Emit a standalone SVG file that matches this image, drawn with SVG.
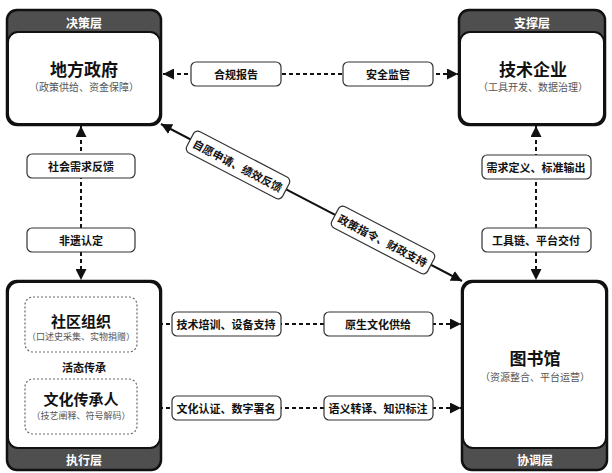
<svg xmlns="http://www.w3.org/2000/svg" width="612" height="473" viewBox="0 0 612 473">
<defs>
<marker id="ah" viewBox="0 0 10 10" refX="10" refY="5" markerWidth="11" markerHeight="11" markerUnits="userSpaceOnUse" orient="auto-start-reverse">
<path d="M0,0 L10,5 L0,10 z" fill="#111"/>
</marker>
<style>
text{font-family:"Noto Sans CJK SC","Noto Sans",sans-serif;text-anchor:middle;dominant-baseline:central}
.outer{fill:#4f4f4f;stroke:#111;stroke-width:2.5}
.inner{fill:#fff;stroke:#111;stroke-width:2}
.hdr{fill:#fff;font-size:12px;font-weight:700}
.title{fill:#111;font-size:17px;font-weight:700}
.sub{fill:#555;font-size:10px}
.stitle{fill:#111;font-size:15px;font-weight:700}
.ssub{fill:#555;font-size:9px}
.subbox{fill:#fff;stroke:#666;stroke-width:1.2;stroke-dasharray:2,2}
.lbox{fill:#fff;stroke:#333;stroke-width:1.2}
.lbl{fill:#111;font-size:11px;font-weight:700}
.dash{fill:none;stroke:#111;stroke-width:2;stroke-dasharray:4,3;marker-start:url(#ah);marker-end:url(#ah)}
.solid{fill:none;stroke:#111;stroke-width:2;marker-start:url(#ah);marker-end:url(#ah)}
</style>
</defs>

<g id="connectors">
<line class="dash" x1="163" y1="74" x2="458" y2="74"/>
<line class="dash" x1="81" y1="126" x2="81" y2="280"/>
<line class="dash" x1="536" y1="126" x2="536" y2="280"/>
<line class="solid" x1="161" y1="124" x2="462" y2="281"/>
<line class="dash" x1="138" y1="324" x2="461" y2="324"/>
<line class="dash" x1="138" y1="408" x2="461" y2="408"/>
</g>

<g id="gov">
<rect class="outer" x="7" y="10" width="154" height="115" rx="10"/>
<rect class="inner" x="8" y="32" width="152" height="92" rx="10"/>
<text class="hdr" x="84" y="22">决策层</text>
<text class="title" x="84" y="68">地方政府</text>
<text class="sub" x="84" y="86">（政策供给、资金保障）</text>
</g>

<g id="tech">
<rect class="outer" x="459" y="10" width="146" height="115" rx="10"/>
<rect class="inner" x="460" y="32" width="144" height="92" rx="10"/>
<text class="hdr" x="532" y="22">支撑层</text>
<text class="title" x="533" y="68">技术企业</text>
<text class="sub" x="533" y="86">（工具开发、数据治理）</text>
</g>

<g id="exec">
<rect class="outer" x="7" y="281" width="154" height="189" rx="10"/>
<rect class="inner" x="8" y="282" width="152" height="166" rx="10"/>
<text class="hdr" x="84" y="459">执行层</text>
<g id="community">
<rect class="subbox" x="25" y="297" width="112" height="55" rx="8"/>
<text class="stitle" x="81" y="320">社区组织</text>
<text class="ssub" x="81" y="336">（口述史采集、实物捐赠）</text>
</g>
<text class="lbl" x="84" y="367">活态传承</text>
<g id="inheritor">
<rect class="subbox" x="25" y="379" width="112" height="55" rx="8"/>
<text class="stitle" x="81" y="398">文化传承人</text>
<text class="ssub" x="81" y="415">（技艺阐释、符号解码）</text>
</g>
</g>

<g id="library">
<rect class="outer" x="462" y="281" width="145" height="189" rx="10"/>
<rect class="inner" x="463" y="282" width="143" height="166" rx="10"/>
<text class="hdr" x="535" y="459">协调层</text>
<text class="title" x="535" y="357">图书馆</text>
<text class="sub" x="535" y="376">（资源整合、平台运营）</text>
</g>

<g id="labels">
<rect class="lbox" x="191" y="62" width="90" height="24" rx="5"/>
<text class="lbl" x="236" y="74">合规报告</text>
<rect class="lbox" x="343" y="62" width="90" height="24" rx="5"/>
<text class="lbl" x="388" y="74">安全监管</text>

<rect class="lbox" x="27" y="154" width="108" height="24" rx="5"/>
<text class="lbl" x="81" y="166">社会需求反馈</text>
<rect class="lbox" x="27" y="228" width="108" height="24" rx="5"/>
<text class="lbl" x="81" y="240">非遗认定</text>

<rect class="lbox" x="482" y="155" width="109" height="24" rx="5"/>
<text class="lbl" x="536" y="167">需求定义、标准输出</text>
<rect class="lbox" x="482" y="228" width="109" height="24" rx="5"/>
<text class="lbl" x="536" y="240">工具链、平台交付</text>

<g transform="translate(238,165) rotate(27.5)">
<rect class="lbox" x="-54" y="-12" width="108" height="24" rx="5"/>
<text class="lbl" x="0" y="0">自愿申请、绩效反馈</text>
</g>
<g transform="translate(383,240) rotate(27.5)">
<rect class="lbox" x="-54" y="-12" width="108" height="24" rx="5"/>
<text class="lbl" x="0" y="0">政策指令、财政支持</text>
</g>

<rect class="lbox" x="172" y="312" width="109" height="24" rx="5"/>
<text class="lbl" x="226" y="324">技术培训、设备支持</text>
<rect class="lbox" x="324" y="312" width="109" height="24" rx="5"/>
<text class="lbl" x="378" y="324">原生文化供给</text>
<rect class="lbox" x="172" y="396" width="109" height="24" rx="5"/>
<text class="lbl" x="226" y="408">文化认证、数字署名</text>
<rect class="lbox" x="324" y="396" width="109" height="24" rx="5"/>
<text class="lbl" x="378" y="408">语义转译、知识标注</text>
</g>
</svg>
